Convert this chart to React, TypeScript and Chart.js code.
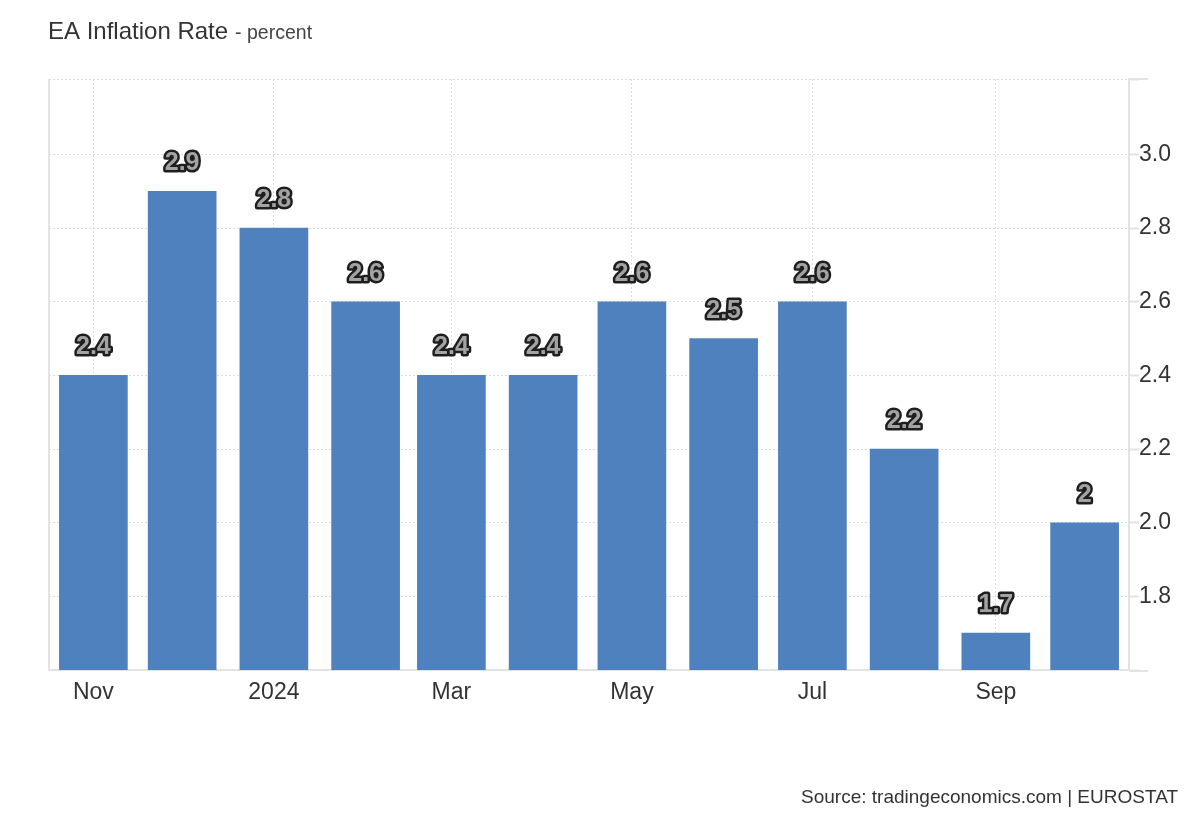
import React, { useEffect, useRef } from "react";
import { Chart, registerables } from "chart.js";

Chart.register(...registerables);

// ---- data ----
const months = [
  "2023-11-01", "2023-12-01", "2024-01-01", "2024-02-01", "2024-03-01", "2024-04-01",
  "2024-05-01", "2024-06-01", "2024-07-01", "2024-08-01", "2024-09-01", "2024-10-01",
];
const inflation = [2.4, 2.9, 2.8, 2.6, 2.4, 2.4, 2.6, 2.5, 2.6, 2.2, 1.7, 2.0];
const tickMonths = ["2023-11-01", "2024-01-01", "2024-03-01", "2024-05-01", "2024-07-01", "2024-09-01"];
const tickLabels = ["Nov", "2024", "Mar", "May", "Jul", "Sep"];
const yTickValues = [1.8, 2.0, 2.2, 2.4, 2.6, 2.8, 3.0];
const Y_MIN = 1.6;
const Y_MAX = 3.205;

const TITLE = "EA Inflation Rate";
const SUBTITLE = "- percent";
const SOURCE = "Source: tradingeconomics.com | EUROSTAT";

const DAY = 86400000;
const origin = Date.parse(months[0] + "T00:00:00Z");
const dayOf = (s: string) => Math.round((Date.parse(s + "T00:00:00Z") - origin) / DAY);

const FONT = "'Liberation Sans', Arial, Helvetica, sans-serif";

const decor = {
  id: "decor",
  beforeDraw(chart: any) {
    const { ctx, width, height } = chart;
    ctx.save();
    ctx.fillStyle = "#ffffff";
    ctx.fillRect(0, 0, width, height);
    ctx.restore();
  },
  afterDatasetsDraw(chart: any) {
    const { ctx } = chart;
    const meta = chart.getDatasetMeta(0);
    ctx.save();
    ctx.font = `bold 25px ${FONT}`;
    ctx.textAlign = "center";
    ctx.textBaseline = "alphabetic";
    ctx.lineJoin = "round";
    meta.data.forEach((bar: any, i: number) => {
      const { x, y } = bar.getProps(["x", "y"], true);
      const txt = String(inflation[i]);
      ctx.lineWidth = 5;
      ctx.strokeStyle = "#1e1e1e";
      ctx.strokeText(txt, x, y - 21);
      ctx.fillStyle = "#a3a3a3";
      ctx.fillText(txt, x, y - 21);
    });
    ctx.restore();
  },
  afterDraw(chart: any) {
    const { ctx, chartArea } = chart;
    ctx.save();
    // left border
    ctx.strokeStyle = "#e3e3e3";
    ctx.lineWidth = 2;
    ctx.beginPath();
    ctx.moveTo(chartArea.left, chartArea.top);
    ctx.lineTo(chartArea.left, chartArea.bottom + 1);
    ctx.stroke();
    // extensions past right axis
    ctx.beginPath();
    ctx.moveTo(chartArea.right, chartArea.top);
    ctx.lineTo(chartArea.right + 19, chartArea.top);
    ctx.moveTo(chartArea.right, chartArea.bottom + 1);
    ctx.lineTo(chartArea.right + 19, chartArea.bottom + 1);
    ctx.stroke();

    // title
    ctx.textBaseline = "alphabetic";
    ctx.textAlign = "left";
    ctx.font = `24px ${FONT}`;
    ctx.fillStyle = "#333333";
    ctx.fillText(TITLE, 48, 39);
    const w = ctx.measureText(TITLE).width;
    ctx.font = `19.5px ${FONT}`;
    ctx.fillStyle = "#444444";
    ctx.fillText(SUBTITLE, 48 + w + 7, 39);

    // source
    ctx.textAlign = "right";
    ctx.font = `19px ${FONT}`;
    ctx.fillStyle = "#333333";
    ctx.fillText(SOURCE, 1178, 803);
    ctx.restore();
  },
};

export default function App() {
  const ref = useRef<HTMLCanvasElement>(null);

  useEffect(() => {
    if (!ref.current) return;
    const chart = new Chart(ref.current, {
      type: "bar",
      data: {
        datasets: [
          {
            data: months.map((m, i) => ({ x: dayOf(m), y: inflation[i] })),
            backgroundColor: "#4e81bd",
            barThickness: 68,
            borderWidth: 0,
          },
        ],
      },
      options: {
        responsive: false,
        animation: false,
        devicePixelRatio: 1,
        layout: { padding: { left: 49, top: 79, right: 0, bottom: 0 } },
        plugins: {
          legend: { display: false },
          tooltip: { enabled: false },
          title: { display: false },
        },
        scales: {
          x: {
            type: "linear",
            offset: false,
            min: -15,
            max: 350,
            afterBuildTicks: (scale: any) => {
              scale.ticks = tickMonths.map((m) => ({ value: dayOf(m) }));
            },
            afterFit: (scale: any) => {
              scale.height = 150;
            },
            ticks: {
              autoSkip: false,
              maxRotation: 0,
              padding: 9,
              color: "#333333",
              font: { family: FONT, size: 23 },
              callback: (_v: any, i: number) => tickLabels[i],
            },
            grid: {
              offset: false,
              color: "#dddddd",
              lineWidth: 1,
              drawTicks: false,
            },
            border: { color: "#e3e3e3", width: 2, dash: [2, 2] },
          },
          y: {
            position: "right",
            min: Y_MIN,
            max: Y_MAX,
            afterBuildTicks: (scale: any) => {
              scale.ticks = [Y_MIN, ...yTickValues, Y_MAX].map((v) => ({ value: v }));
            },
            afterFit: (scale: any) => {
              scale.width = 71;
            },
            ticks: {
              padding: 0,
              color: "#333333",
              font: { family: FONT, size: 23 },
              callback: (v: any) => (yTickValues.some((t) => Math.abs(t - Number(v)) < 1e-6) ? Number(v).toFixed(1) : ""),
            },
            grid: {
              offset: false,
              color: "#dddddd",
              lineWidth: 1,
              drawTicks: true,
              tickLength: 10,
              tickColor: "#e3e3e3",
              tickWidth: 2,
            },
            border: { color: "#e3e3e3", width: 2, dash: [2, 2] },
          },
        },
      },
      plugins: [decor],
    } as any);
    return () => chart.destroy();
  }, []);

  return (
    <div style={{ position: "fixed", left: 0, top: 0, width: 1200, height: 820, background: "#fff" }}>
      <canvas ref={ref} width={1200} height={820} style={{ width: 1200, height: 820, display: "block" }} />
    </div>
  );
}
